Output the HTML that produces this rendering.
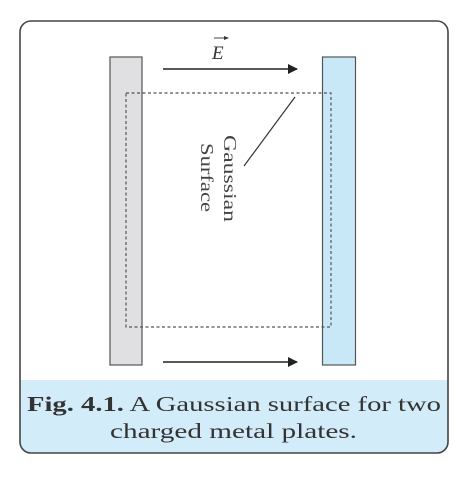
<!DOCTYPE html>
<html><head><meta charset="utf-8"><style>
body{margin:0;background:#fff;width:468px;height:475px;overflow:hidden}
</style></head><body>
<svg width="468" height="475" viewBox="0 0 468 475">
<defs>
<clipPath id="fc"><rect x="20" y="21" width="428" height="432" rx="11"/></clipPath>
<marker id="ah" markerWidth="10" markerHeight="10" refX="9" refY="5" orient="auto" markerUnits="userSpaceOnUse"><path d="M0,0 L10,5 L0,10 z" fill="#222"/></marker>
</defs>
<g clip-path="url(#fc)">
<rect x="20" y="380" width="428" height="73" fill="#d3ecf9"/>
</g>
<rect x="20" y="21" width="428" height="432" rx="11" fill="none" stroke="#444" stroke-width="1.6"/>
<rect x="110" y="57" width="32" height="308" fill="#e0e0e2" stroke="#555" stroke-width="1.2"/>
<rect x="322.5" y="57" width="33" height="308" fill="#c8e8f8" stroke="#555" stroke-width="1.2"/>
<rect x="126" y="93" width="205" height="234" fill="none" stroke="#555" stroke-width="1.2" stroke-dasharray="3,2.5"/>
<line x1="163" y1="69" x2="297" y2="69" stroke="#222" stroke-width="1.4" marker-end="url(#ah)"/>
<line x1="163" y1="362" x2="297" y2="362" stroke="#222" stroke-width="1.4" marker-end="url(#ah)"/>
<text x="212" y="59" font-family="Liberation Serif, serif" font-style="italic" font-size="19" fill="#333">E</text>
<g>
<line x1="214" y1="38" x2="227" y2="38" stroke="#333" stroke-width="0.9"/>
<path d="M224,36 L229,38 L224,40 z" fill="#333"/>
</g>
<line x1="295" y1="97" x2="244" y2="166" stroke="#333" stroke-width="1.2"/>
<text transform="translate(224,135) rotate(90)" font-family="Liberation Serif, serif" font-size="18" fill="#444" textLength="87" lengthAdjust="spacingAndGlyphs">Gaussian</text>
<text transform="translate(201,143) rotate(90)" font-family="Liberation Serif, serif" font-size="18" fill="#444" textLength="69" lengthAdjust="spacingAndGlyphs">Surface</text>
<text x="27" y="411" font-family="Liberation Serif, serif" font-size="21" fill="#333" textLength="414" lengthAdjust="spacingAndGlyphs"><tspan font-weight="bold">Fig. 4.1.</tspan> A Gaussian surface for two</text>
<text x="110" y="438" font-family="Liberation Serif, serif" font-size="21" fill="#333" textLength="247" lengthAdjust="spacingAndGlyphs">charged metal plates.</text>
</svg>
</body></html>
